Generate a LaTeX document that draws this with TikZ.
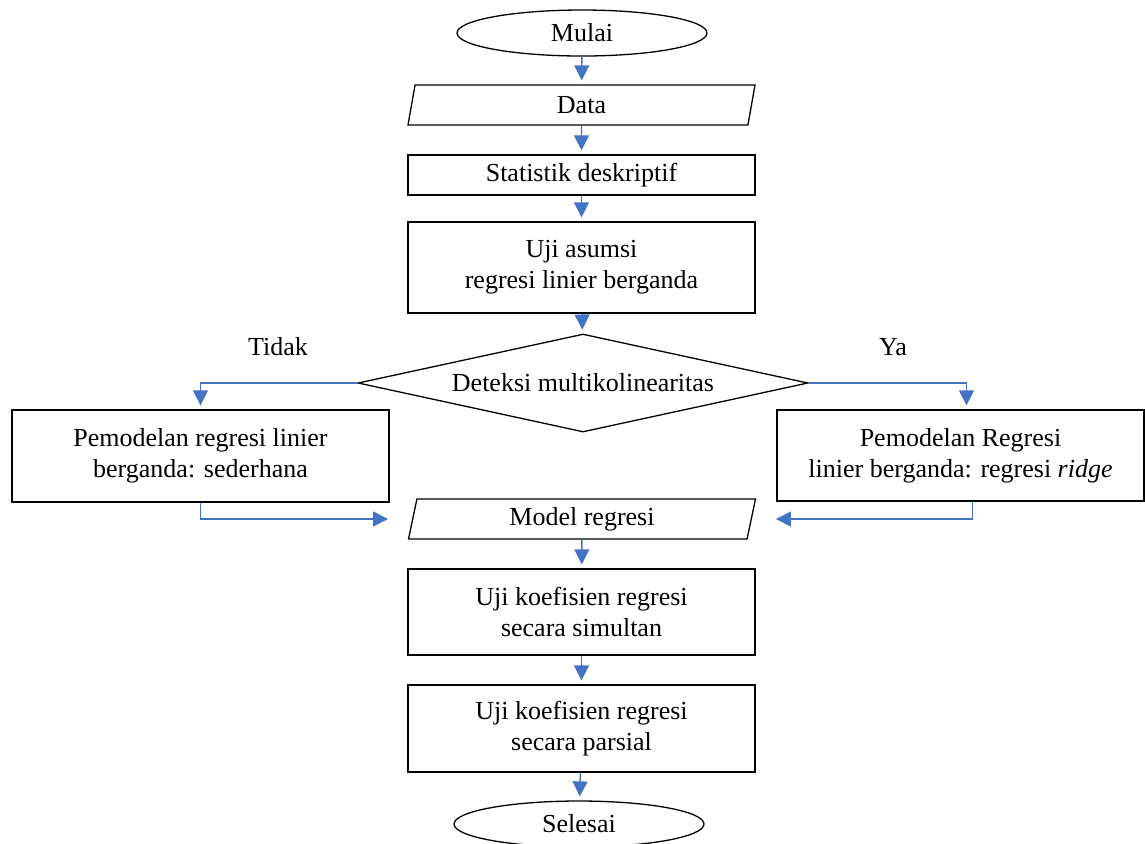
\documentclass[tikz,border=0pt]{standalone}
\usepackage{fontspec}
\setmainfont{Liberation Serif}
\usepackage{tikz}
\usetikzlibrary{shapes.geometric,arrows.meta,positioning}
\definecolor{flowblue}{HTML}{4472C4}
\tikzset{>=latex}
\tikzset{
  base/.style={draw=black,line width=0.65pt,align=center,font=\fontsize{13}{15.5}\selectfont,inner sep=2pt},
  startstop/.style={base,ellipse,minimum width=125pt,minimum height=23pt},
  io/.style={base,trapezium,trapezium left angle=78,trapezium right angle=102,trapezium stretches body=true,inner ysep=4pt,minimum width=173.5pt,minimum height=20pt},
  process/.style={base,rectangle,minimum width=173.5pt},
  decision/.style={base,diamond,shape aspect=4.6,inner sep=0pt,minimum width=225pt,minimum height=49pt},
  lbl/.style={font=\fontsize{13}{15.5}\selectfont},
  flow/.style={draw=flowblue,line width=0.7pt,-{Triangle[width=7.5pt,length=7.5pt]},shorten >=2pt}
}

\begin{document}
\begin{tikzpicture}[x=0.5pt,y=-0.5pt]
    \path[use as bounding box,clip] (0,0) rectangle (1145,843);
    % main column
    \node [startstop] (mulai) at (582,33) {Mulai};
    \node [io] (data) at (581.5,105) {Data};
    \node [process,minimum height=20pt] (stat) at (581.5,175) {Statistik deskriptif};
    \node [process,minimum height=45.5pt] (asumsi) at (581.5,267.5) {Uji asumsi\\regresi linier berganda};
    \node [decision] (deteksi) at (583,383) {Deteksi multikolinearitas};
    % branches
    \node [process,minimum width=188.5pt,minimum height=46pt] (sederhana) at (200.5,456) {Pemodelan regresi linier\\berganda: sederhana};
    \node [process,minimum width=183.5pt,minimum height=45.5pt] (ridge) at (960.5,455.5) {Pemodelan Regresi\\linier berganda: regresi \textit{ridge}};
    \node [lbl] (tidak) at (278,347) {Tidak};
    \node [lbl] (ya) at (893,347) {Ya};
    \node [io] (model) at (582,519) {Model regresi};
    \node [process,minimum height=43pt] (simultan) at (581.5,612) {Uji koefisien regresi\\secara simultan};
    \node [process,minimum height=43.5pt] (parsial) at (581.5,728.5) {Uji koefisien regresi\\secara parsial};
    \node [startstop] (selesai) at (579,824) {Selesai};

    \foreach \a/\b in {mulai/data,data/stat,stat/asumsi,asumsi/deteksi,model/simultan,simultan/parsial,parsial/selesai}
      \draw [flow] (\a) -- (\b);
    \draw [flow] (deteksi.west) -| (sederhana.north);
    \draw [flow] (deteksi.east) -| ([xshift=3pt]ridge.north);
    \draw [flow,shorten >=12pt] (sederhana.south) |- (model.west);
    \draw [flow,shorten >=12pt] ([xshift=6pt]ridge.south) |- (model.east);
\end{tikzpicture}
\end{document}
